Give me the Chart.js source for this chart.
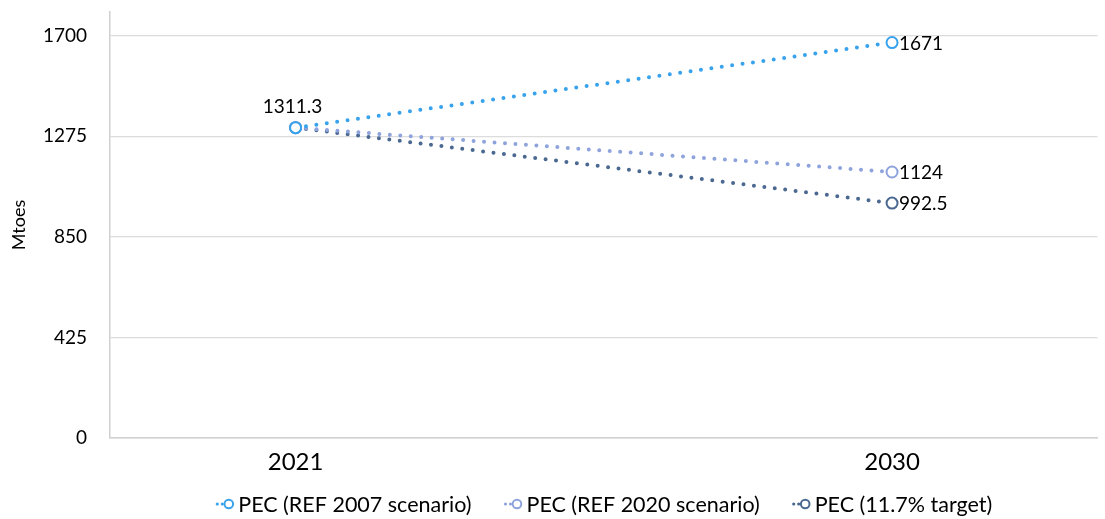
<!DOCTYPE html>
<html>
<head>
<meta charset="utf-8">
<script src="https://cdn.jsdelivr.net/npm/chart.js@4.4.1/dist/chart.umd.min.js"></script>
<style>
html,body{margin:0;padding:0;background:#fff;}
#wrap{width:1105px;height:519px;position:relative;}
</style>
</head>
<body>
<div id="wrap"><canvas id="c" width="1105" height="519"></canvas></div>
<script>
const years = [2021, 2030];
const seriesNames = ['PEC (REF 2007 scenario)', 'PEC (REF 2020 scenario)', 'PEC (11.7% target)'];
const ref2007 = [1311.3, 1671];
const ref2020 = [1311.3, 1124];
const target117 = [1311.3, 992.5];
const yTicks = [0, 425, 850, 1275, 1700];
const xTicks = [2021, 2030];
const showLabels = [[true, true], [false, true], [false, true]];

const colors = ['#38a2ec', '#8ea3dc', '#4a6890'];
const FONT = 'Lato, "Noto Sans", sans-serif';

const allSeries = [ref2007, ref2020, target117];
const datasets = allSeries.map((vals, i) => ({
  label: seriesNames[i],
  data: years.map((y, j) => ({ x: y, y: vals[j] })),
  borderColor: colors[i],
  backgroundColor: '#ffffff',
  borderWidth: 4,
  borderDash: [0, 10.5],
  borderCapStyle: 'round',
  pointRadius: 5.5,
  pointBorderWidth: 2,
  pointBorderColor: colors[i],
  pointBackgroundColor: '#ffffff',
  fill: false,
  tension: 0
}));

const labelPlugin = {
  id: 'valueLabels',
  afterDatasetsDraw(chart) {
    const ctx = chart.ctx;
    ctx.save();
    ctx.font = '19px ' + FONT;
    ctx.fillStyle = '#000';
    chart.data.datasets.forEach((ds, i) => {
      const meta = chart.getDatasetMeta(i);
      meta.data.forEach((pt, j) => {
        if (!showLabels[i][j]) return;
        const v = allSeries[i][j];
        ctx.textBaseline = 'middle';
        if (j === 0) {
          ctx.textAlign = 'center';
          ctx.fillText(String(v), pt.x - 3, pt.y - 21);
        } else {
          ctx.textAlign = 'left';
          ctx.fillText(String(v), pt.x + 7, pt.y + 1);
        }
      });
    });
    ctx.restore();
  }
};

const legendPlugin = {
  id: 'customLegend',
  afterDraw(chart) {
    const ctx = chart.ctx;
    const area = chart.chartArea;
    ctx.save();
    ctx.font = '21.5px ' + FONT;
    const iconW = 23, gap = 32;
    const widths = seriesNames.map(n => iconW + ctx.measureText(n).width);
    const total = widths.reduce((a, b) => a + b, 0) + gap * (widths.length - 1);
    let x = (area.left + area.right) / 2 - total / 2;
    const y = 504;
    seriesNames.forEach((name, i) => {
      const c = colors[i];
      ctx.fillStyle = c;
      ctx.beginPath(); ctx.arc(x + 2, y, 1.6, 0, Math.PI * 2); ctx.fill();
      ctx.beginPath(); ctx.arc(x + 7, y, 1.6, 0, Math.PI * 2); ctx.fill();
      ctx.strokeStyle = c; ctx.lineWidth = 2;
      ctx.beginPath(); ctx.arc(x + 13.5, y, 4.3, 0, Math.PI * 2); ctx.stroke();
      ctx.fillStyle = '#000';
      ctx.textAlign = 'left';
      ctx.textBaseline = 'middle';
      ctx.fillText(name, x + iconW, y + 1);
      x += widths[i] + gap;
    });
    ctx.restore();
  }
};

new Chart(document.getElementById('c'), {
  type: 'line',
  data: { datasets },
  options: {
    responsive: false,
    animation: false,
    layout: { padding: { left: 0, right: 5, top: 12, bottom: 36 } },
    plugins: {
      legend: { display: false },
      tooltip: { enabled: false }
    },
    scales: {
      x: {
        type: 'linear',
        min: 2018.2,
        max: 2033.1,
        afterBuildTicks(scale) { scale.ticks = xTicks.map(v => ({ value: v })); },
        afterFit(scale) { scale.height = 45; scale.paddingLeft = 0; scale.paddingRight = 0; },
        grid: { display: false, drawTicks: false },
        border: { display: true, color: '#d0d0d0', width: 1.5 },
        ticks: {
          padding: 10,
          color: '#000',
          font: { size: 24, family: FONT },
          callback: v => String(v)
        }
      },
      y: {
        min: 0,
        max: 1800,
        afterBuildTicks(scale) { scale.ticks = yTicks.map(v => ({ value: v })); },
        afterFit(scale) { scale.width = 110; scale.paddingTop = 0; scale.paddingBottom = 0; },
        grid: { color: '#dcdcdc', lineWidth: 1.2, drawTicks: false },
        border: { display: true, color: '#d0d0d0', width: 1.5 },
        title: {
          display: true,
          text: 'Mtoes',
          color: '#000',
          font: { size: 18, family: FONT },
          padding: { top: 8, bottom: 0 }
        },
        ticks: {
          padding: 23,
          color: '#000',
          font: { size: 19, family: FONT },
          callback: v => String(v)
        }
      }
    }
  },
  plugins: [labelPlugin, legendPlugin]
});
</script>
</body>
</html>
